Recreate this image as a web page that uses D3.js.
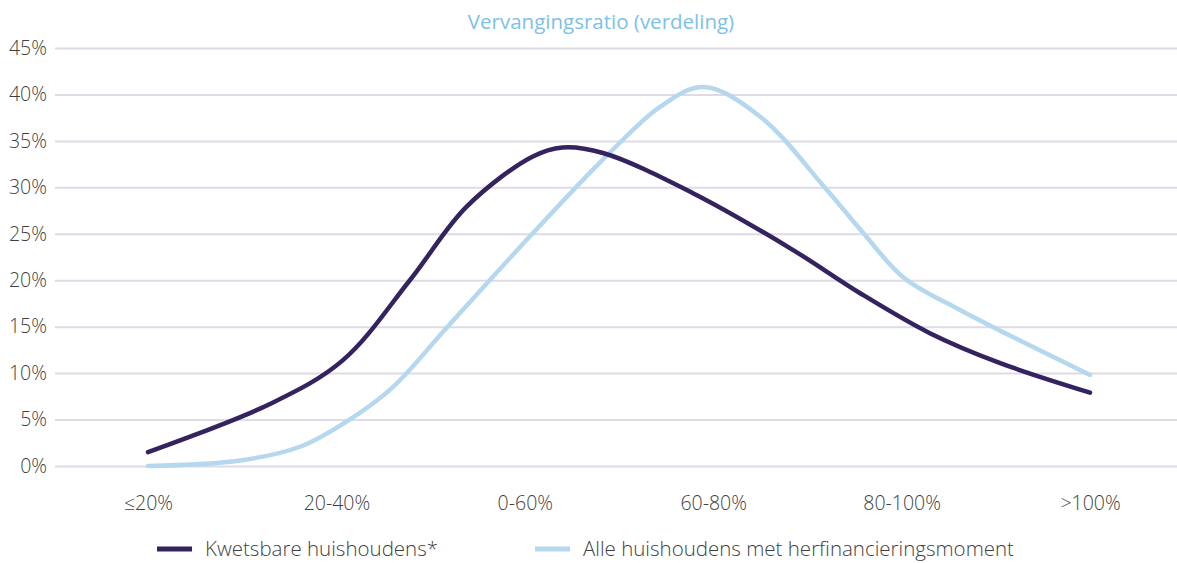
<!DOCTYPE html>
<html>
<head>
<meta charset="utf-8">
<script src="https://cdn.jsdelivr.net/npm/d3@7"></script>
<style>
  body { margin: 0; background: #fff; }
  svg text { font-family: "Open Sans", "Lato", sans-serif; font-weight: 300; }
</style>
</head>
<body>
<svg id="chart"></svg>
<script>
// categories on the x axis (positions 0..5)
const categories = ["≤20%", "20-40%", "0-60%", "60-80%", "80-100%", ">100%"];
const yTicks = [0, 5, 10, 15, 20, 25, 30, 35, 40, 45];

// curve points: x in category units, y in %
const kwetsbareX = [0, 0.65, 1.035, 1.39, 1.69, 2.04, 2.2, 2.415, 2.89, 3.42, 3.78, 4.15, 4.52, 5];
const kwetsbareY = [1.5, 6.7, 11.4, 20.0, 27.9, 33.3, 34.3, 33.7, 29.4, 23.3, 18.6, 14.3, 11.1, 7.9];

const alleX = [0, 0.49, 0.81, 1.07, 1.3, 1.59, 2.04, 2.45, 2.72, 2.95, 3.25, 3.6, 3.8, 4.01, 4.31, 5];
const alleY = [0, 0.6, 2.1, 5.0, 8.5, 15.0, 25.0, 33.7, 38.7, 40.8, 37.6, 29.8, 25.0, 20.3, 16.8, 9.8];

const seriesNames = ["Kwetsbare huishoudens*", "Alle huishoudens met herfinancieringsmoment"];
const title = "Vervangingsratio (verdeling)";

const width = 1177;
const height = 563;
const DARK = "#34235f";
const LIGHT = "#b5d8ef";

const svg = d3.select("#chart").attr("width", width).attr("height", height);

const x = d3.scaleLinear().domain([0, 5]).range([148, 1090]);
const y = d3.scaleLinear().domain([0, 45]).range([466, 48]);

svg.append("text")
    .attr("x", 601).attr("y", 29)
    .attr("text-anchor", "middle")
    .attr("fill", "#7dc1e7")
    .style("font-size", "20.5px")
    .style("font-weight", 400)
    .text(title);

// y axis + gridlines
const yAxis = svg.append("g")
    .attr("transform", "translate(55,0)")
    .call(d3.axisLeft(y).tickValues(yTicks).tickSize(-(width - 55)).tickFormat(d => d + "%"));
yAxis.select(".domain").remove();
yAxis.selectAll(".tick line").attr("stroke", "#dddbe6").attr("stroke-width", 2);
yAxis.selectAll(".tick text")
    .attr("x", -8)
    .attr("fill", "#3f3f3f")
    .style("font-size", "19.5px");

// x axis
const xAxis = svg.append("g")
    .attr("transform", "translate(0,466)")
    .call(d3.axisBottom(x).tickValues(d3.range(categories.length)).tickSize(0).tickFormat(i => categories[i]));
xAxis.select(".domain").remove();
xAxis.selectAll(".tick text")
    .attr("dy", 0)
    .attr("y", 44)
    .attr("fill", "#3f3f3f")
    .style("font-size", "19.5px");

const line = d3.line()
    .x(d => x(d[0]))
    .y(d => y(d[1]))
    .curve(d3.curveCatmullRom.alpha(0.5));

const alle = d3.zip(alleX, alleY);
const kwetsbare = d3.zip(kwetsbareX, kwetsbareY);

svg.append("path")
    .datum(alle)
    .attr("fill", "none")
    .attr("stroke", LIGHT)
    .attr("stroke-width", 4.5)
    .attr("stroke-linecap", "round")
    .attr("d", line);

svg.append("path")
    .datum(kwetsbare)
    .attr("fill", "none")
    .attr("stroke", DARK)
    .attr("stroke-width", 4.5)
    .attr("stroke-linecap", "round")
    .attr("d", line);

// legend
const legend = [
    { name: seriesNames[0], color: DARK, x: 157 },
    { name: seriesNames[1], color: LIGHT, x: 535 }
];
const lg = svg.append("g").selectAll("g").data(legend).enter().append("g")
    .attr("transform", d => `translate(${d.x},549)`);
lg.append("line")
    .attr("x1", 0).attr("x2", 35)
    .attr("stroke", d => d.color)
    .attr("stroke-width", 5);
lg.append("text")
    .attr("x", 48).attr("y", 7)
    .attr("fill", "#3f3f3f")
    .style("font-size", "20.5px")
    .text(d => d.name);
</script>
</body>
</html>
